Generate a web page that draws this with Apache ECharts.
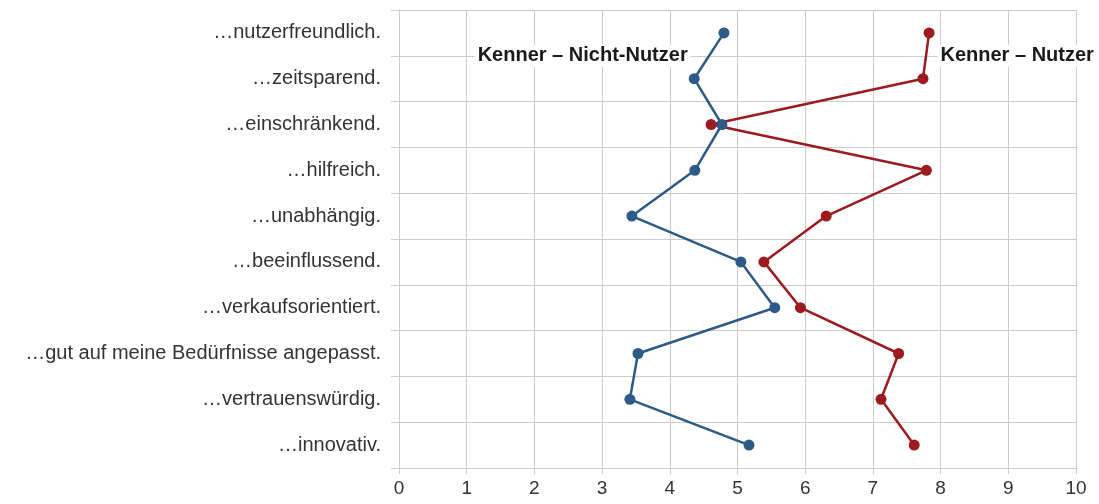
<!DOCTYPE html>
<html>
<head>
<meta charset="utf-8">
<script src="https://cdn.jsdelivr.net/npm/echarts@6/dist/echarts.min.js"></script>
<style>
html,body{margin:0;padding:0;background:#fff;}
#c{width:1099px;height:504px;}
</style>
</head>
<body>
<div id="c"></div>
<script>
const categories = [
  '…nutzerfreundlich.',
  '…zeitsparend.',
  '…einschränkend.',
  '…hilfreich.',
  '…unabhängig.',
  '…beeinflussend.',
  '…verkaufsorientiert.',
  '…gut auf meine Bedürfnisse angepasst.',
  '…vertrauenswürdig.',
  '…innovativ.'
];
const nichtNutzer = [4.80, 4.36, 4.77, 4.37, 3.44, 5.05, 5.55, 3.53, 3.41, 5.17];
const nutzer = [7.83, 7.74, 4.61, 7.79, 6.31, 5.39, 5.93, 7.38, 7.12, 7.61];
const seriesNames = ['Kenner – Nicht-Nutzer', 'Kenner – Nutzer'];
const xTicks = [0, 10, 1]; // min, max, interval

const chart = echarts.init(document.getElementById('c'), null, {renderer: 'canvas'});
const gridColor = '#cccccc';
const font = 'Liberation Sans, Arial, sans-serif';

function labelData(values, labelIdx, labelCfg) {
  return values.map((v, i) => {
    const d = {value: v};
    if (i === labelIdx) d.label = labelCfg;
    return d;
  });
}

chart.setOption({
  animation: false,
  backgroundColor: '#ffffff',
  grid: {left: 399, right: 23, top: 10, bottom: 36, containLabel: false},
  xAxis: {
    type: 'value',
    min: xTicks[0], max: xTicks[1], interval: xTicks[2],
    axisLine: {show: true, lineStyle: {color: gridColor, width: 1}},
    axisTick: {show: true, length: 6, lineStyle: {color: gridColor}},
    splitLine: {show: true, lineStyle: {color: gridColor, width: 1}},
    axisLabel: {color: '#333', fontFamily: font, fontSize: 19, margin: 11}
  },
  yAxis: {
    type: 'category',
    inverse: true,
    data: categories,
    boundaryGap: true,
    axisLine: {show: true, lineStyle: {color: gridColor, width: 1}},
    axisTick: {show: true, length: 8, interval: 0, lineStyle: {color: gridColor}},
    splitLine: {show: true, interval: 0, lineStyle: {color: gridColor, width: 1}},
    axisLabel: {color: '#333', fontFamily: font, fontSize: 20, margin: 18, interval: 0}
  },
  series: [
    {
      name: seriesNames[0],
      type: 'line',
      data: labelData(nichtNutzer, 1, {
        show: true, formatter: seriesNames[0], position: 'left', offset: [7, -23],
        fontFamily: font, fontSize: 20, fontWeight: 'bold', color: '#1a1a1a',
        backgroundColor: '#fff', padding: [1, 3]
      }),
      symbol: 'circle', symbolSize: 11,
      itemStyle: {color: '#2e5a88'},
      lineStyle: {color: '#2e5a88', width: 2.5},
      z: 3
    },
    {
      name: seriesNames[1],
      type: 'line',
      data: labelData(nutzer, 1, {
        show: true, formatter: seriesNames[1], position: 'right', offset: [4, -23],
        fontFamily: font, fontSize: 20, fontWeight: 'bold', color: '#1a1a1a',
        backgroundColor: '#fff', padding: [1, 3]
      }),
      symbol: 'circle', symbolSize: 11,
      itemStyle: {color: '#9b1b1f'},
      lineStyle: {color: '#9b1b1f', width: 2.5},
      z: 2
    }
  ]
});
</script>
</body>
</html>
